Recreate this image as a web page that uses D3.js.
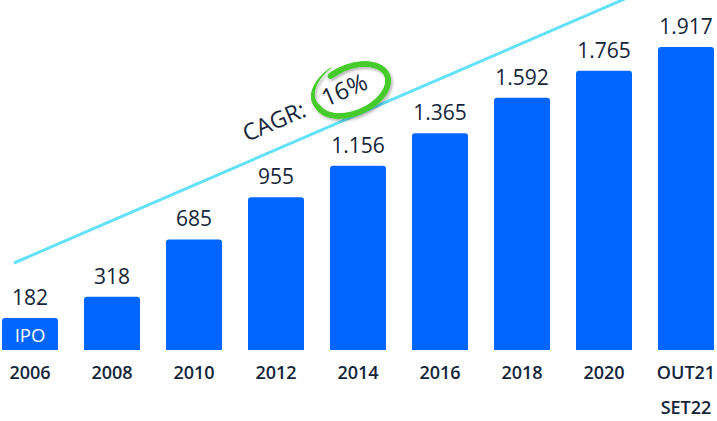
<!DOCTYPE html>
<html><head><meta charset="utf-8">
<script src="https://cdn.jsdelivr.net/npm/d3@7"></script>
<style>html,body{margin:0;padding:0;background:#fff;}svg{display:block;}</style>
</head><body>
<svg id="c" width="717" height="421"></svg>
<script>
const categories = ["2006","2008","2010","2012","2014","2016","2018","2020","OUT21 SET22"];
const values = [182,318,685,955,1156,1365,1592,1765,1917];
const valueLabels = ["182","318","685","955","1.156","1.365","1.592","1.765","1.917"];
const tickLabels = [["2006"],["2008"],["2010"],["2012"],["2014"],["2016"],["2018"],["2020"],["OUT21","SET22"]];
const barNote = ["IPO","","","","","","","",""];
const cagrLabel = "CAGR:";
const cagrValue = "16%";

const W = 717, H = 421;
const svg = d3.select("#c");
const textColor = "#14253a";
const barColor = "#0066ff";
const font = "'Open Sans', sans-serif";

const x = d3.scaleBand().domain(categories).range([2, 714]).paddingInner(0.317).paddingOuter(0);
const y = d3.scaleLinear().domain([-23, 1917]).range([350, 47]);
const base = y(-23);

// trend line
const lineA = [14, 263], lineB = [650, -12];
svg.append("line").attr("x1", lineA[0]).attr("y1", lineA[1]).attr("x2", lineB[0]).attr("y2", lineB[1])
  .attr("stroke", "#62e1f8").attr("stroke-width", 3);

// bars with rounded tops
const r = 3;
svg.append("g").selectAll("path").data(values).join("path")
  .attr("fill", barColor)
  .attr("d", (v, i) => {
    const x0 = x(categories[i]), w = x.bandwidth(), y0 = y(v);
    const p = d3.path();
    p.moveTo(x0, base);
    p.lineTo(x0, y0 + r);
    p.quadraticCurveTo(x0, y0, x0 + r, y0);
    p.lineTo(x0 + w - r, y0);
    p.quadraticCurveTo(x0 + w, y0, x0 + w, y0 + r);
    p.lineTo(x0 + w, base);
    p.closePath();
    return p.toString();
  });

// value labels
svg.append("g").selectAll("text").data(values).join("text")
  .attr("x", (v, i) => x(categories[i]) + x.bandwidth() / 2)
  .attr("y", v => y(v) - 13)
  .attr("text-anchor", "middle")
  .attr("font-family", font).attr("font-size", 21).attr("fill", textColor)
  .text((v, i) => valueLabels[i]);

// notes inside bars
svg.append("g").selectAll("text").data(barNote).join("text")
  .attr("x", (d, i) => x(categories[i]) + x.bandwidth() / 2)
  .attr("y", 342)
  .attr("text-anchor", "middle")
  .attr("font-family", font).attr("font-size", 18.5).attr("fill", "#ffffff")
  .text(d => d);

// x axis labels
const xl = svg.append("g");
tickLabels.forEach((lines, i) => {
  lines.forEach((t, j) => {
    xl.append("text")
      .attr("x", x(categories[i]) + x.bandwidth() / 2)
      .attr("y", 379 + j * 35)
      .attr("text-anchor", "middle")
      .attr("font-family", font).attr("font-size", 18).attr("font-weight", 600).attr("fill", textColor)
      .text(t);
  });
});

// CAGR annotation
const ang = Math.atan2(lineB[1] - lineA[1], lineB[0] - lineA[0]) * 180 / Math.PI;
svg.append("text").attr("transform", `translate(247,142) rotate(${ang})`)
  .attr("font-family", font).attr("font-size", 23).attr("fill", textColor).text(cagrLabel);
svg.append("text").attr("transform", `translate(326,107) rotate(${ang})`)
  .attr("font-family", font).attr("font-size", 24).attr("fill", textColor).text(cagrValue);

// hand-drawn green ellipse
const cx = 352, cy = 90, rx = 38, ry = 23, th = ang * Math.PI / 180;
const pts = [];
const t0 = -Math.PI * 0.62, t1 = t0 + Math.PI * 2.05;
for (let k = 0; k <= 80; k++) {
  const t = t0 + (t1 - t0) * k / 80;
  const s = 1 + 0.28 * Math.max(0, (k - 62) / 18);
  const ex = rx * s * Math.cos(t), ey = ry * s * Math.sin(t);
  pts.push([cx + ex * Math.cos(th) - ey * Math.sin(th), cy + ex * Math.sin(th) + ey * Math.cos(th)]);
}
const defs = svg.append("defs");
const f = defs.append("filter").attr("id", "sh").attr("x", "-20%").attr("y", "-20%").attr("width", "140%").attr("height", "140%");
f.append("feDropShadow").attr("dx", 1.5).attr("dy", 2).attr("stdDeviation", 1.5).attr("flood-color", "#000").attr("flood-opacity", 0.3);
const g = svg.append("g").attr("filter", "url(#sh)");
const n = pts.length;
for (let k = 0; k < n - 1; k++) {
  const frac = k / (n - 1);
  let wdt = 5.5;
  if (frac < 0.05) wdt = 6;
  if (frac > 0.75) wdt = 5.5 - 4.7 * (frac - 0.75) / 0.25;
  g.append("line").attr("x1", pts[k][0]).attr("y1", pts[k][1]).attr("x2", pts[k+1][0]).attr("y2", pts[k+1][1])
    .attr("stroke", "#45cc2c").attr("stroke-width", wdt).attr("stroke-linecap", "round");
}
</script>
</body></html>
